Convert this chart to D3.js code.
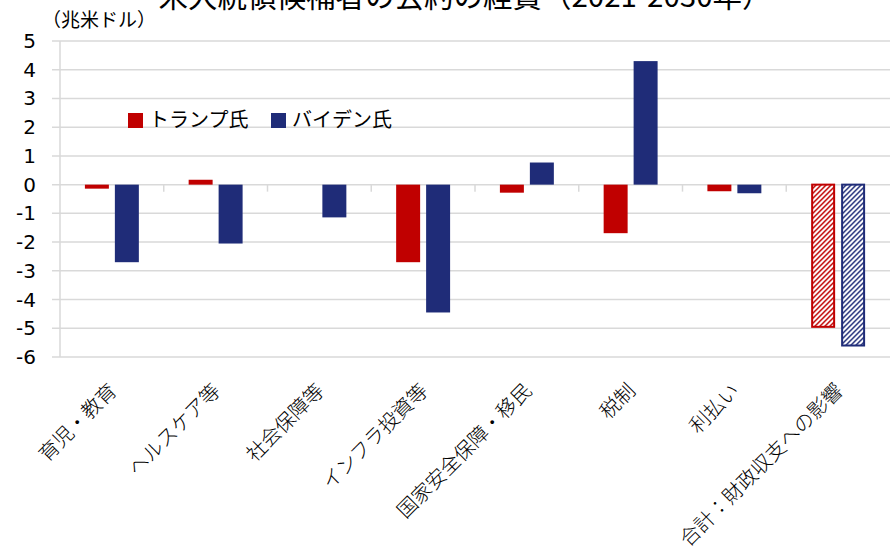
<!DOCTYPE html>
<html>
<head>
<meta charset="utf-8">
<script src="https://cdn.jsdelivr.net/npm/d3@7"></script>
<style>
  body { margin: 0; background: #fff; }
  svg { display: block; }
  .jp { font-family: "Noto Sans CJK JP", "Noto Sans", sans-serif; fill: #000; }
  .num { font-family: "DejaVu Sans", Verdana, sans-serif; fill: #000; }
</style>
</head>
<body>
<svg id="chart" width="890" height="557"></svg>
<script>
// データ（兆米ドル）
const categories = ["育児・教育", "ヘルスケア等", "社会保障等", "インフラ投資等", "国家安全保障・移民", "税制", "利払い", "合計：財政収支への影響"];
const trump = [-0.14, 0.17, 0, -2.7, -0.28, -1.69, -0.23, -4.95];
const biden = [-2.7, -2.05, -1.14, -4.45, 0.77, 4.3, -0.3, -5.6];
const yTicks = [5, 4, 3, 2, 1, 0, -1, -2, -3, -4, -5, -6];
const seriesNames = ["トランプ氏", "バイデン氏"];
const seriesColors = ["#C00000", "#1F2C78"];

const width = 890;
const height = 557;
const margin = { top: 41, right: 0, bottom: 200, left: 60 };

const svg = d3.select('#chart');

// 合計の棒用の斜線パターン
const defs = svg.append("defs");
seriesColors.forEach((c, i) => {
  const p = defs.append("pattern")
    .attr("id", "hatch" + i)
    .attr("patternUnits", "userSpaceOnUse")
    .attr("width", 5)
    .attr("height", 5);
  p.append("rect").attr("width", 5).attr("height", 5).attr("fill", "#fff");
  p.append("path")
    .attr("d", "M0,5 L5,0 M-1,1 L1,-1 M4,6 L6,4")
    .attr("stroke", c)
    .attr("stroke-width", 1.5);
});

const x0 = d3.scaleBand()
  .domain(categories)
  .range([margin.left, width - margin.right])
  .paddingInner(0.48)
  .paddingOuter(0.24);
const x1 = d3.scaleBand()
  .domain([0, 1])
  .range([0, x0.bandwidth()])
  .paddingInner(0.2);
const y = d3.scaleLinear()
  .domain([-6, 5])
  .range([357, margin.top]);

const step = x0.step();
const bandStart = c => x0(c) - step * 0.24;

// グリッド線
svg.append("g")
  .selectAll("line")
  .data(yTicks)
  .enter().append("line")
  .attr("x1", margin.left - 8)
  .attr("x2", width)
  .attr("y1", d => y(d))
  .attr("y2", d => y(d))
  .attr("stroke", "#d9d9d9")
  .attr("stroke-width", 1.5);

// 縦軸線
svg.append("line")
  .attr("x1", margin.left).attr("x2", margin.left)
  .attr("y1", y(5)).attr("y2", y(-6))
  .attr("stroke", "#d9d9d9")
  .attr("stroke-width", 1.5);

// 目盛り（カテゴリー境界）
svg.append("g")
  .selectAll("line")
  .data(categories.slice(1))
  .enter().append("line")
  .attr("x1", d => bandStart(d))
  .attr("x2", d => bandStart(d))
  .attr("y1", y(0))
  .attr("y2", y(0) + 7)
  .attr("stroke", "#d9d9d9")
  .attr("stroke-width", 1.5);

// Y軸ラベル
svg.append("g")
  .selectAll("text")
  .data(yTicks)
  .enter().append("text")
  .attr("class", "num")
  .attr("x", 36)
  .attr("y", d => y(d) + 7)
  .attr("text-anchor", "end")
  .style("font-size", "20px")
  .text(d => d);

// 棒
const rows = categories.map((c, i) => ({ c, i, vals: [trump[i], biden[i]] }));
const last = categories.length - 1;
const groups = svg.append("g")
  .selectAll("g")
  .data(rows)
  .enter().append("g")
  .attr("transform", d => `translate(${x0(d.c)},0)`);

groups.selectAll("rect")
  .data(d => d.vals.map((v, s) => ({ v, s, total: d.i === last })))
  .enter().append("rect")
  .attr("x", d => x1(d.s) + (d.total ? 1 : 0))
  .attr("width", d => x1.bandwidth() - (d.total ? 2 : 0))
  .attr("y", d => y(Math.max(0, d.v)))
  .attr("height", d => Math.abs(y(d.v) - y(0)))
  .attr("fill", d => d.total ? `url(#hatch${d.s})` : seriesColors[d.s])
  .attr("stroke", d => d.total ? seriesColors[d.s] : "none")
  .attr("stroke-width", 2);

// カテゴリーラベル
svg.append("g")
  .selectAll("text")
  .data(categories)
  .enter().append("text")
  .attr("class", "jp")
  .attr("transform", d => `translate(${x0(d) + x0.bandwidth() / 2 + 6},${392}) rotate(-45)`)
  .attr("text-anchor", "end")
  .style("font-size", "20px")
  .style("font-weight", 300)
  .text(d => d);

// 凡例
const legend = svg.append("g");
const legendX = [128, 271];
seriesNames.forEach((name, i) => {
  legend.append("rect")
    .attr("x", legendX[i]).attr("y", 113)
    .attr("width", 15).attr("height", 15)
    .attr("fill", seriesColors[i]);
  legend.append("text")
    .attr("class", "jp")
    .attr("x", legendX[i] + 21)
    .attr("y", 127)
    .style("font-size", "20px")
    .text(name);
});

// 単位・タイトル
svg.append("text")
  .attr("class", "jp")
  .attr("x", 42)
  .attr("y", 27)
  .style("font-size", "19px")
  .text("（兆米ドル）");

svg.append("text")
  .attr("class", "jp")
  .attr("x", 465)
  .attr("y", 7)
  .attr("text-anchor", "middle")
  .style("font-size", "29.5px")
  .text("米大統領候補者の公約の経費（2021-2030年）");
</script>
</body>
</html>
